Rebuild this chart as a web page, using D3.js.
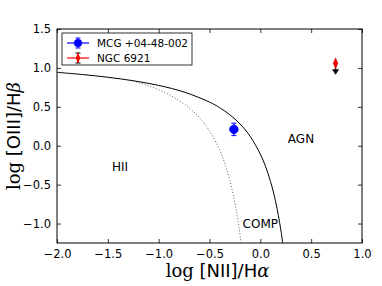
<!DOCTYPE html>
<html>
<head>
<meta charset="utf-8">
<script src="https://cdn.jsdelivr.net/npm/d3@7"></script>
<style>
  body { margin: 0; background: #fff; }
  text { font-family: "DejaVu Sans", sans-serif; }
</style>
</head>
<body>
<div id="chart"></div>
<script>
// demarcation lines
var kewleyX = [-2.0, -1.75, -1.5, -1.25, -1.0, -0.75, -0.5, -0.4, -0.3, -0.2, -0.1, 0.0, 0.05, 0.1, 0.15, 0.2, 0.22];
var kewleyY = [0.943, 0.915, 0.880, 0.835, 0.775, 0.69, 0.561, 0.489, 0.398, 0.280, 0.120, -0.108, -0.262, -0.459, -0.716, -1.069, -1.25];
var kauffX = [-1.28, -1.1, -0.9, -0.7, -0.6, -0.5, -0.4, -0.35, -0.3, -0.25, -0.22, -0.19, -0.189];
var kauffY = [0.841, 0.770, 0.658, 0.487, 0.362, 0.191, -0.056, -0.225, -0.443, -0.733, -0.959, -1.242, -1.25];

// objects
var names = ["MCG +04-48-002", "NGC 6921"];
var objX = [-0.26, 0.74];
var objY = [0.21, 1.06];
var objXErr = [0.03, 0];
var objYErr = [0.08, 0];
var objColor = ["blue", "red"];

var xTicks = [-2.0, -1.5, -1.0, -0.5, 0.0, 0.5, 1.0];
var yTicks = [-1.0, -0.5, 0.0, 0.5, 1.0, 1.5];

var regions = [
  {label: "HII", x: -1.38, y: -0.27},
  {label: "AGN", x: 0.40, y: 0.09},
  {label: "COMP", x: 0.0, y: -1.01}
];

var width = 382, height = 286;
var mLeft = 57, mRight = 362, mTop = 29, mBottom = 243;

var svg = d3.select("#chart").append("svg").attr("width", width).attr("height", height);

var x = d3.scaleLinear().domain([-2, 1]).range([mLeft, mRight]);
var y = d3.scaleLinear().domain([-1.25, 1.5]).range([mBottom, mTop]);
var fmt = d3.format(".1f");

// axes with inward ticks on all sides
var xAxis = d3.axisBottom(x).tickValues(xTicks).tickFormat(fmt).tickSizeInner(-4).tickSizeOuter(0).tickPadding(7);
var xAxisTop = d3.axisTop(x).tickValues(xTicks).tickFormat("").tickSizeInner(-4).tickSizeOuter(0);
var yAxis = d3.axisLeft(y).tickValues(yTicks).tickFormat(fmt).tickSizeInner(-4).tickSizeOuter(0).tickPadding(6);
var yAxisRight = d3.axisRight(y).tickValues(yTicks).tickFormat("").tickSizeInner(-4).tickSizeOuter(0);

svg.append("g").attr("transform", "translate(0," + mBottom + ")").call(xAxis);
svg.append("g").attr("transform", "translate(0," + mTop + ")").call(xAxisTop);
svg.append("g").attr("transform", "translate(" + mLeft + ",0)").call(yAxis);
svg.append("g").attr("transform", "translate(" + mRight + ",0)").call(yAxisRight);

svg.selectAll(".domain").remove();
svg.selectAll(".tick line").attr("stroke", "#000").attr("stroke-width", 0.8);
svg.selectAll(".tick text").attr("font-size", 11.5).attr("fill", "#000").attr("font-family", "DejaVu Sans");

// frame
svg.append("rect").attr("x", mLeft).attr("y", mTop).attr("width", mRight - mLeft).attr("height", mBottom - mTop)
  .attr("fill", "none").attr("stroke", "#000").attr("stroke-width", 1);

svg.append("clipPath").attr("id", "clip").append("rect")
  .attr("x", mLeft).attr("y", mTop).attr("width", mRight - mLeft).attr("height", mBottom - mTop);

var plot = svg.append("g").attr("clip-path", "url(#clip)");

var line = d3.line().x(function(d){ return x(d[0]); }).y(function(d){ return y(d[1]); }).curve(d3.curveCatmullRom);

plot.append("path").datum(d3.zip(kewleyX, kewleyY))
  .attr("d", line)
  .attr("fill", "none").attr("stroke", "#000").attr("stroke-width", 1);

plot.append("path").datum(d3.zip(kauffX, kauffY))
  .attr("d", line)
  .attr("fill", "none").attr("stroke", "#333").attr("stroke-width", 0.8).attr("stroke-dasharray", "1,2");

// region labels
svg.selectAll(".region").data(regions).enter().append("text")
  .attr("x", function(d){ return x(d.x); })
  .attr("y", function(d){ return y(d.y); })
  .attr("text-anchor", "middle")
  .attr("dominant-baseline", "central")
  .attr("font-size", 12)
  .text(function(d){ return d.label; });

// MCG point with error bars
var mx = x(objX[0]), my = y(objY[0]);
plot.append("line").attr("x1", x(objX[0] - objXErr[0])).attr("x2", x(objX[0] + objXErr[0]))
  .attr("y1", my).attr("y2", my).attr("stroke", "blue").attr("stroke-width", 1.2);
plot.append("line").attr("x1", mx).attr("x2", mx)
  .attr("y1", y(objY[0] - objYErr[0])).attr("y2", y(objY[0] + objYErr[0])).attr("stroke", "blue").attr("stroke-width", 1.2);
[objY[0] - objYErr[0], objY[0] + objYErr[0]].forEach(function(v){
  plot.append("line").attr("x1", mx - 2.5).attr("x2", mx + 2.5).attr("y1", y(v)).attr("y2", y(v))
    .attr("stroke", "blue").attr("stroke-width", 1);
});
plot.append("circle").attr("cx", mx).attr("cy", my).attr("r", 4.2).attr("fill", "blue").attr("stroke", "blue");

// NGC point: upper limit arrow
var nx = x(objX[1]), ny = y(objY[1]);
plot.append("line").attr("x1", nx).attr("x2", nx).attr("y1", ny).attr("y2", ny + 8)
  .attr("stroke", "#000").attr("stroke-width", 1.2);
plot.append("path").attr("d", "M" + (nx - 3.5) + "," + (ny + 6) + "L" + (nx + 3.5) + "," + (ny + 6) + "L" + nx + "," + (ny + 11.5) + "Z")
  .attr("fill", "#000");
plot.append("path").attr("d", d3.symbol().type(d3.symbolDiamond).size(28)())
  .attr("transform", "translate(" + nx + "," + ny + ") scale(0.8,1.1)")
  .attr("fill", "red").attr("stroke", "#a00").attr("stroke-width", 0.5);

// legend
var legend = svg.append("g");
legend.append("rect").attr("x", 62).attr("y", 33).attr("width", 130).attr("height", 32)
  .attr("fill", "#fff").attr("stroke", "#000").attr("stroke-width", 0.8);
names.forEach(function(n, i){
  var ly = 43 + i * 15;
  legend.append("line").attr("x1", 67).attr("x2", 89).attr("y1", ly).attr("y2", ly)
    .attr("stroke", objColor[i]).attr("stroke-width", 1.2);
  var ec = i == 0 ? "blue" : "#000";
  legend.append("line").attr("x1", 78).attr("x2", 78).attr("y1", ly - 5).attr("y2", ly + 5).attr("stroke", ec).attr("stroke-width", 1);
  legend.append("line").attr("x1", 75.5).attr("x2", 80.5).attr("y1", ly - 5).attr("y2", ly - 5).attr("stroke", ec);
  legend.append("line").attr("x1", 75.5).attr("x2", 80.5).attr("y1", ly + 5).attr("y2", ly + 5).attr("stroke", ec);
  if (i == 0) {
    legend.append("circle").attr("cx", 78).attr("cy", ly).attr("r", 4).attr("fill", "blue");
  } else {
    legend.append("path").attr("d", d3.symbol().type(d3.symbolDiamond).size(28)())
      .attr("transform", "translate(78," + ly + ") scale(0.8,1.1)").attr("fill", "red");
  }
  legend.append("text").attr("x", 97).attr("y", ly).attr("dominant-baseline", "central")
    .attr("font-size", 10.5).text(n);
});

// axis labels
var xl = svg.append("text").attr("x", (mLeft + mRight) / 2 + 8).attr("y", 277).attr("text-anchor", "middle").attr("font-size", 18);
xl.append("tspan").attr("font-family", "DejaVu Serif").text("log ");
xl.append("tspan").text("[NII]/H");
xl.append("tspan").attr("font-family", "DejaVu Serif").attr("font-style", "italic").text("α");

var yl = svg.append("text").attr("transform", "translate(20," + ((mTop + mBottom) / 2) + ") rotate(-90)")
  .attr("text-anchor", "middle").attr("font-size", 18);
yl.append("tspan").attr("font-family", "DejaVu Serif").text("log ");
yl.append("tspan").text("[OIII]/H");
yl.append("tspan").attr("font-family", "DejaVu Serif").attr("font-style", "italic").text("β");
</script>
</body>
</html>
